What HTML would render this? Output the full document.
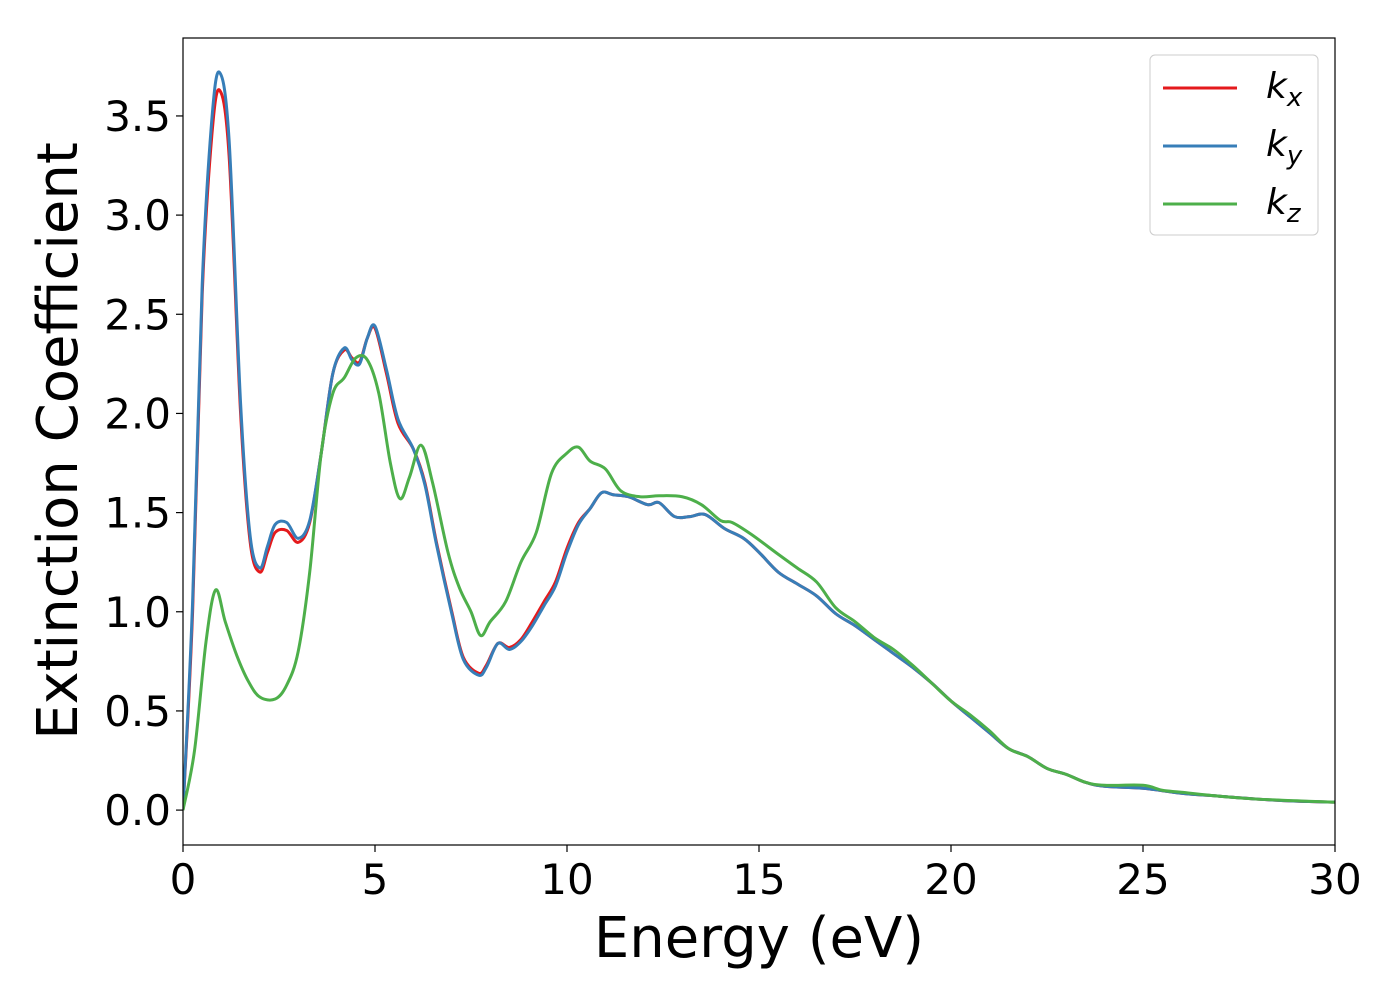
<!DOCTYPE html>
<html><head><meta charset="utf-8"><style>
body{margin:0;background:#fff}
svg text{font-family:"DejaVu Sans","Liberation Sans",sans-serif;fill:#000}
</style></head><body>
<svg id="chart" width="1400" height="1000" xmlns="http://www.w3.org/2000/svg">
<g id="plot"></g>
</svg>
<script>
const xTicks=[0,5,10,15,20,25,30];
const yTicks=[0.0,0.5,1.0,1.5,2.0,2.5,3.0,3.5];
const seriesNames=["k_x","k_y","k_z"];
const kxE=[0,0.25,0.5,0.75,0.95,1.2,1.5,1.75,2.0,2.2,2.4,2.7,3.0,3.3,3.6,3.9,4.2,4.4,4.6,4.8,5.0,5.3,5.6,6.0,6.3,6.6,7.0,7.3,7.7,7.9,8.2,8.5,8.8,9.1,9.4,9.7,10.0,10.3,10.6,10.9,11.2,11.6,12.1,12.4,12.8,13.2,13.6,14.1,14.6,15.0,15.5,16.0,16.5,17.0,17.5,18.0,18.5,19.0,19.5,20.0,20.5,21.0,21.5,22.0,22.5,23.0,23.5,24.0,25.0,26.0,27.0,28.0,29.0,30.0];
const kxV=[0,1.0,2.6,3.4,3.63,3.3,2.0,1.35,1.2,1.3,1.4,1.41,1.35,1.45,1.8,2.2,2.32,2.28,2.26,2.38,2.43,2.2,1.95,1.82,1.65,1.35,1.0,0.77,0.69,0.73,0.84,0.82,0.86,0.95,1.05,1.15,1.32,1.45,1.52,1.6,1.59,1.58,1.54,1.55,1.48,1.48,1.49,1.42,1.37,1.3,1.2,1.14,1.08,0.99,0.93,0.86,0.79,0.72,0.64,0.55,0.47,0.39,0.31,0.27,0.21,0.18,0.14,0.12,0.11,0.085,0.07,0.055,0.045,0.04];
const kyE=kxE;
const kyV=[0,1.05,2.65,3.48,3.72,3.38,2.05,1.38,1.22,1.33,1.44,1.45,1.37,1.46,1.8,2.2,2.33,2.27,2.25,2.38,2.44,2.22,1.97,1.82,1.64,1.34,0.99,0.76,0.68,0.72,0.84,0.81,0.85,0.93,1.03,1.13,1.3,1.44,1.52,1.6,1.59,1.58,1.54,1.55,1.48,1.48,1.49,1.42,1.37,1.3,1.2,1.14,1.08,0.99,0.93,0.86,0.79,0.72,0.64,0.55,0.47,0.39,0.31,0.27,0.21,0.18,0.14,0.12,0.11,0.085,0.07,0.055,0.045,0.04];
const kzE=[0,0.3,0.6,0.85,1.1,1.4,1.7,2.0,2.4,2.7,3.0,3.3,3.6,3.9,4.2,4.5,4.8,5.1,5.4,5.65,5.9,6.2,6.5,6.9,7.2,7.5,7.75,8.0,8.4,8.8,9.2,9.6,10.0,10.3,10.6,11.0,11.4,11.9,12.4,13.0,13.5,14.0,14.3,14.8,15.5,16.0,16.5,17.0,17.5,18.0,18.5,19.0,19.5,20.0,20.5,21.0,21.5,22.0,22.5,23.0,23.5,24.0,25.0,25.5,26.0,27.0,28.0,30.0];
const kzV=[0,0.3,0.85,1.11,0.95,0.78,0.65,0.57,0.56,0.63,0.8,1.2,1.8,2.1,2.18,2.28,2.27,2.1,1.75,1.57,1.68,1.84,1.65,1.3,1.12,1.0,0.88,0.95,1.05,1.25,1.4,1.7,1.8,1.83,1.76,1.72,1.61,1.58,1.585,1.58,1.54,1.46,1.45,1.39,1.29,1.22,1.15,1.02,0.95,0.87,0.81,0.73,0.64,0.55,0.48,0.40,0.31,0.27,0.21,0.18,0.14,0.125,0.125,0.1,0.09,0.07,0.055,0.04];

const L=183,R=1335,T=38,B=845;
const xMin=0,xMax=30,yMin=-0.176,yMax=3.893;
const sx=v=>L+(v-xMin)/(xMax-xMin)*(R-L);
const sy=v=>B-(v-yMin)/(yMax-yMin)*(B-T);
const NS="http://www.w3.org/2000/svg";
const svg=document.getElementById('chart');
function mk(tag,attrs,parent){const e=document.createElementNS(NS,tag);for(const k in attrs)e.setAttribute(k,attrs[k]);(parent||svg).appendChild(e);return e;}
function smooth(E,V){
  const p=E.map((e,i)=>[sx(e),sy(V[i])]);
  let d=`M${p[0][0]},${p[0][1]}`;
  for(let i=0;i<p.length-1;i++){
    const p0=p[Math.max(i-1,0)],p1=p[i],p2=p[i+1],p3=p[Math.min(i+2,p.length-1)];
    const c1=[p1[0]+(p2[0]-p0[0])/6,p1[1]+(p2[1]-p0[1])/6];
    const c2=[p2[0]-(p3[0]-p1[0])/6,p2[1]-(p3[1]-p1[1])/6];
    d+=`C${c1[0]},${c1[1]} ${c2[0]},${c2[1]} ${p2[0]},${p2[1]}`;
  }
  return d;
}
const defs=mk('defs',{});
const cp=mk('clipPath',{id:'clip'},defs);
mk('rect',{x:L,y:T,width:R-L,height:B-T},cp);
const g=mk('g',{'clip-path':'url(#clip)'});
const series=[[kxE,kxV,'#e41a1c'],[kyE,kyV,'#377eb8'],[kzE,kzV,'#4daf4a']];
series.forEach((s,i)=>{
  const p=mk('path',{d:smooth(s[0],s[1]),fill:'none',stroke:s[2],'stroke-width':3,'stroke-linejoin':'round'},g);
  
  
});
const frame=mk('rect',{x:L,y:T,width:R-L,height:B-T,fill:'none',stroke:'#000','stroke-width':1.2});


xTicks.forEach(t=>{
  const x=sx(t);
  const l=mk('line',{x1:x,x2:x,y1:B,y2:B+7,stroke:'#000','stroke-width':1.2});
  
  
  const tx=mk('text',{x:x,y:B+49,'font-size':42,'text-anchor':'middle'});
  tx.textContent=String(t);
  
  
});
yTicks.forEach(t=>{
  const y=sy(t);
  const l=mk('line',{x1:L-7,x2:L,y1:y,y2:y,stroke:'#000','stroke-width':1.2});
  
  
  const tx=mk('text',{x:L-12,y:y+15,'font-size':42,'text-anchor':'end'});
  tx.textContent=t.toFixed(1);
  
  
});
const xl=mk('text',{x:759,y:957,'font-size':56,'text-anchor':'middle'});
xl.textContent='Energy (eV)';


const yl=mk('text',{x:0,y:0,'font-size':56,'text-anchor':'middle',transform:'translate(77,441) rotate(-90)'});
yl.textContent='Extinction Coefficient';


const lg=mk('g',{});


mk('rect',{x:1150,y:55,width:168,height:180,rx:5,fill:'#fff',stroke:'#ccc','stroke-width':1},lg);
const subs=['x','y','z'];
series.forEach((s,i)=>{
  const y=88+i*58;
  const e=mk('g',{},lg);
  
  
  mk('line',{x1:1163,x2:1237,y1:y,y2:y,stroke:s[2],'stroke-width':3},e);
  const t=mk('text',{x:1266,y:y+10,'font-size':36,'font-style':'italic'},e);
  t.textContent='k';
  const sub=mk('tspan',{'font-size':26,dy:8},t);
  sub.textContent=subs[i];
});
</script>
</body></html>
